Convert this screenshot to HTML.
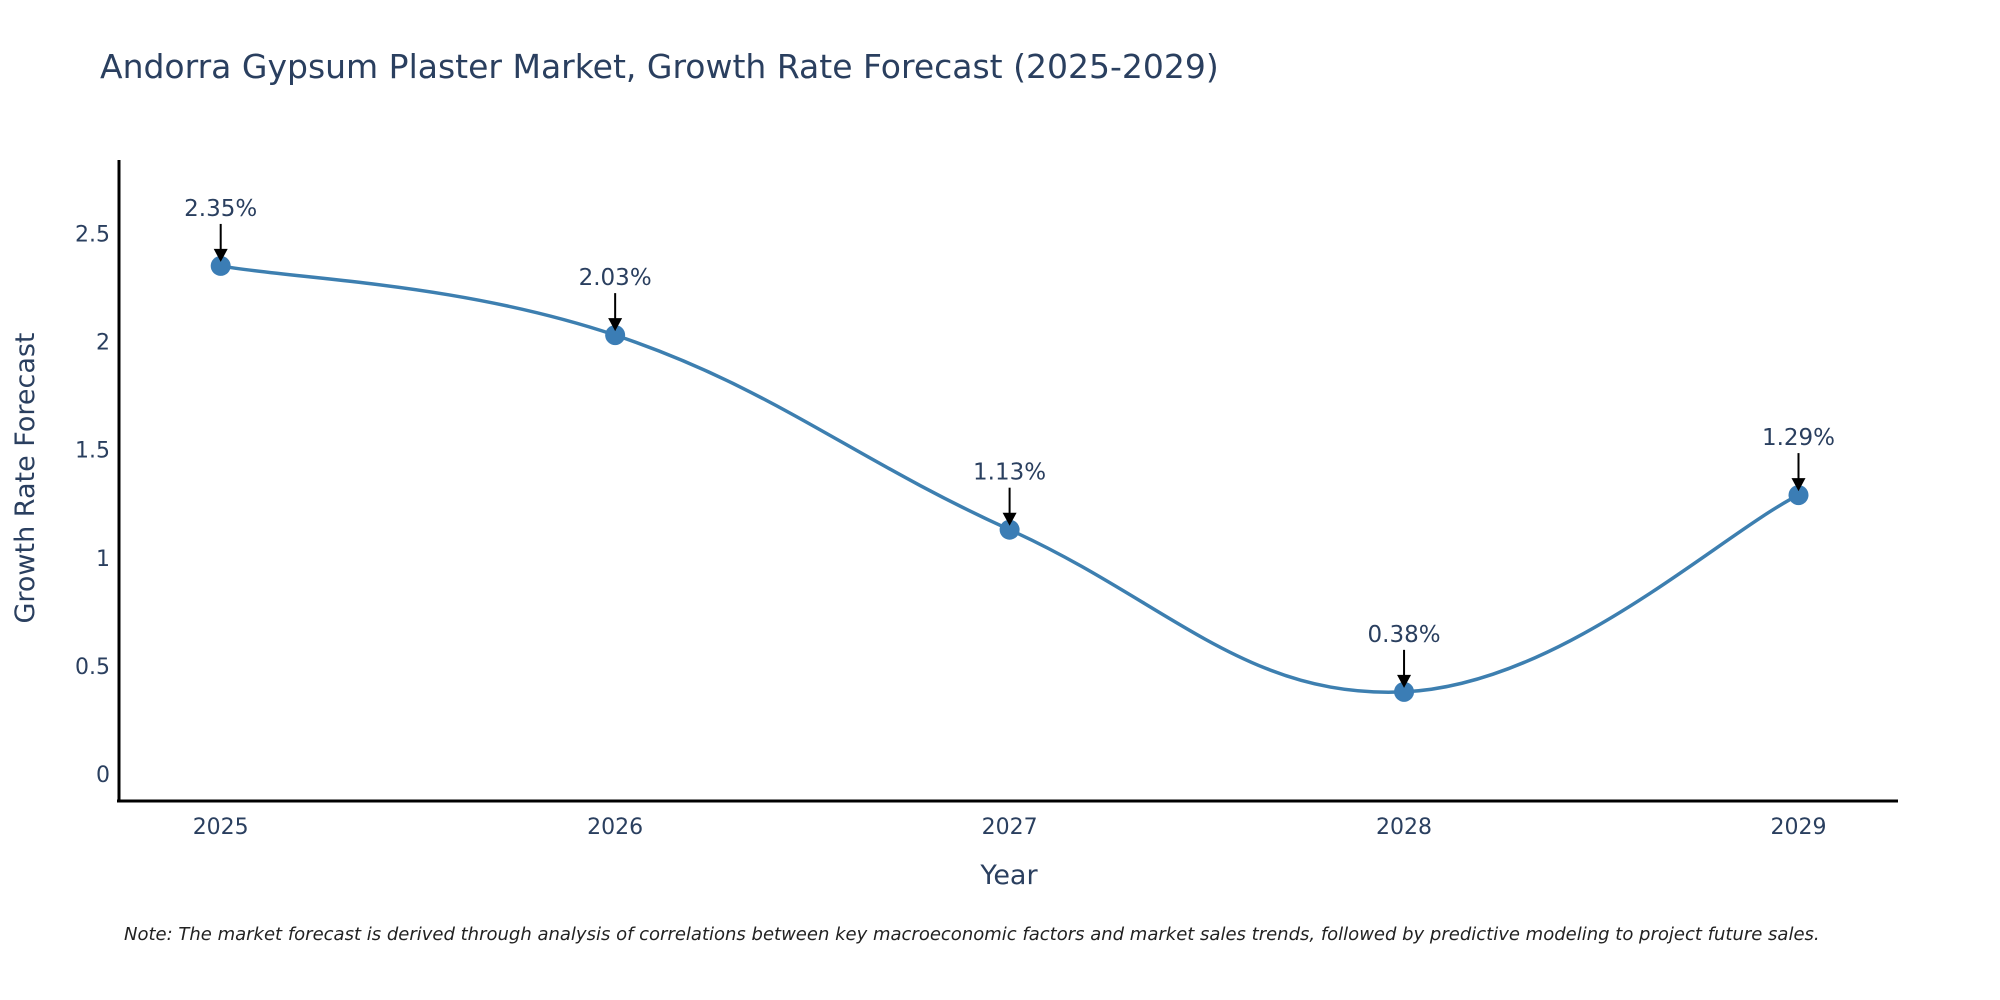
<!DOCTYPE html>
<html><head><meta charset="utf-8"><style>
body{margin:0;background:#fff;}
svg{display:block;font-family:"DejaVu Sans","Liberation Sans",sans-serif;}
</style></head><body>
<svg id="chart" width="2000" height="1000" viewBox="0 0 2000 1000">
<text x="100" y="78" font-size="33" fill="#2a3f5f">Andorra Gypsum Plaster Market, Growth Rate Forecast (2025-2029)</text>
<g id="yticks"></g>
<g id="xticks"></g>
<line x1="119" y1="160" x2="119" y2="802" stroke="#000" stroke-width="3"/>
<line x1="117" y1="801" x2="1898" y2="801" stroke="#000" stroke-width="3"/>
<text transform="translate(34,478) rotate(-90)" text-anchor="middle" font-size="27" fill="#2a3f5f">Growth Rate Forecast</text>
<text x="1009" y="884" text-anchor="middle" font-size="27" fill="#2a3f5f">Year</text>
<g id="series"></g>
<text x="124" y="940" font-size="18" font-style="italic" fill="#222">Note: The market forecast is derived through analysis of correlations between key macroeconomic factors and market sales trends, followed by predictive modeling to project future sales.</text>
</svg>
<script>
const years = [2025, 2026, 2027, 2028, 2029];
const values = [2.35, 2.03, 1.13, 0.38, 1.29];
const labels = ["2.35%", "2.03%", "1.13%", "0.38%", "1.29%"];
const yTicks = [0, 0.5, 1, 1.5, 2, 2.5];
const yTickLabels = ["0", "0.5", "1", "1.5", "2", "2.5"];

const NS = "http://www.w3.org/2000/svg";
const xScale = v => 220.7 + (v - 2025) * (1798.5 - 220.7) / 4;
const yScale = v => 774 - v * 216.2;
function mk(tag, attrs, parent) {
  const e = document.createElementNS(NS, tag);
  for (const k in attrs) e.setAttribute(k, attrs[k]);
  parent.appendChild(e);
  return e;
}
const yt = document.getElementById('yticks');
yTicks.forEach((t, i) => {
  const e = mk('text', {x: 110, y: yScale(t) + 8, 'text-anchor': 'end', 'font-size': 22, fill: '#2a3f5f'}, yt);
  
  
  e.textContent = yTickLabels[i];
});
const xt = document.getElementById('xticks');
years.forEach(y => {
  const e = mk('text', {x: xScale(y), y: 834, 'text-anchor': 'middle', 'font-size': 22, fill: '#2a3f5f'}, xt);
  
  
  e.textContent = String(y);
});
const g = document.getElementById('series');
const pts = years.map((y, i) => [xScale(y), yScale(values[i])]);
let d = `M${pts[0][0]},${pts[0][1]}`;
const s = 0.2;
for (let i = 0; i < pts.length - 1; i++) {
  const p0 = pts[Math.max(0, i - 1)], p1 = pts[i], p2 = pts[i + 1], p3 = pts[Math.min(pts.length - 1, i + 2)];
  const c1 = [p1[0] + (p2[0] - p0[0]) * s, p1[1] + (p2[1] - p0[1]) * s];
  const c2 = [p2[0] - (p3[0] - p1[0]) * s, p2[1] - (p3[1] - p1[1]) * s];
  d += ` C${c1[0]},${c1[1]} ${c2[0]},${c2[1]} ${p2[0]},${p2[1]}`;
}
const line = mk('path', {d: d, fill: 'none', stroke: '#3d7fb0', 'stroke-width': 3.5}, g);


pts.forEach((p, i) => {
  const c = mk('circle', {cx: p[0], cy: p[1], r: 10, fill: '#3b7db5'}, g);
  
  
  const a = mk('line', {x1: p[0], y1: p[1] - 42, x2: p[0], y2: p[1] - 16, stroke: '#000', 'stroke-width': 2}, g);
  
  
  const h = mk('polygon', {points: `${p[0]-7},${p[1]-17} ${p[0]+7},${p[1]-17} ${p[0]},${p[1]-4}`, fill: '#000'}, g);
  
  
  const t = mk('text', {x: p[0], y: p[1] - 50, 'text-anchor': 'middle', 'font-size': 23, fill: '#2a3f5f'}, g);
  
  
  t.textContent = labels[i];
});
</script>
</body></html>
